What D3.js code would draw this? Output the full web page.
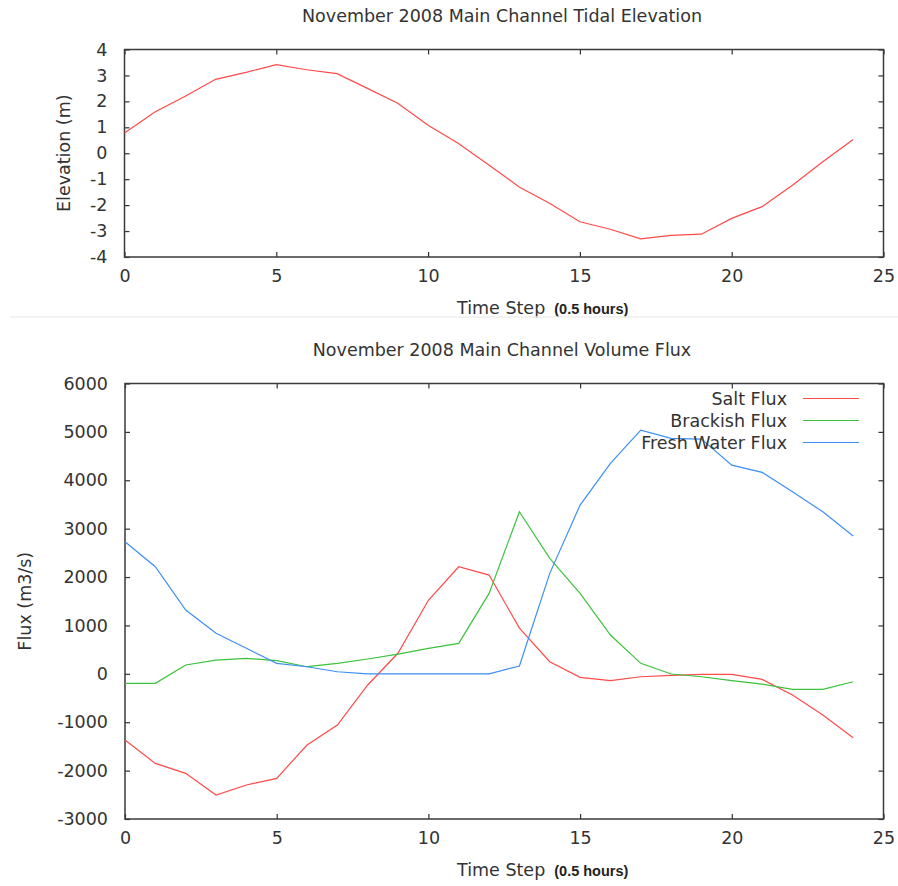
<!DOCTYPE html>
<html>
<head>
<meta charset="utf-8">
<script src="https://cdn.jsdelivr.net/npm/d3@7"></script>
<style>
  html, body { margin: 0; padding: 0; background: #fff; }
  svg { display: block; }
  text { font-family: "DejaVu Sans", sans-serif; fill: #333; }
</style>
</head>
<body>
<svg id="chart" width="898" height="886"></svg>
<script>
// ---- data ----
const timeSteps = [0,1,2,3,4,5,6,7,8,9,10,11,12,13,14,15,16,17,18,19,20,21,22,23,24];
const elevation = [0.78,1.59,2.2,2.85,3.12,3.42,3.22,3.07,2.5,1.93,1.08,0.38,-0.45,-1.3,-1.93,-2.64,-2.93,-3.3,-3.17,-3.12,-2.51,-2.06,-1.23,-0.33,0.53];
const saltFlux = [-1368,-1850,-2056,-2504,-2297,-2160,-1471,-1058,-230,430,1520,2213,2041,946,250,-72,-142,-60,-30,-10,-10,-114,-438,-851,-1320];
const brackishFlux = [-196,-196,182,285,320,271,147,217,306,409,527,630,1663,3349,2386,1663,802,217,-4,-60,-142,-211,-320,-320,-163];
const freshFlux = [2730,2213,1318,837,527,217,147,43,0,0,0,0,0,161,2076,3487,4349,5037,4866,4851,4314,4163,3762,3349,2847];

const xTicks = [0,5,10,15,20,25];
const elevTicks = [-4,-3,-2,-1,0,1,2,3,4];
const fluxTicks = [-3000,-2000,-1000,0,1000,2000,3000,4000,5000,6000];

const seriesNames = ["Salt Flux","Brackish Flux","Fresh Water Flux"];
const seriesColors = ["#ff4a4a","#3cc23c","#3d8ff5"];

const FS = 17.5;
const svg = d3.select("#chart");
const fmt = d => String(d);

function panel(opts) {
  const {left, right, top, bottom, yDomain, yTicks, title, yLabel, yLabelX, titleY} = opts;
  const x = d3.scaleLinear().domain([0,25]).range([left, right]);
  const y = d3.scaleLinear().domain(yDomain).range([bottom, top]);
  const g = svg.append("g");
  const tick = 5;

  const axB = g.append("g").attr("transform",`translate(0,${bottom})`)
    .call(d3.axisBottom(x).tickValues(xTicks).tickSize(-tick).tickPadding(12).tickFormat(fmt));
  const axT = g.append("g").attr("transform",`translate(0,${top})`)
    .call(d3.axisTop(x).tickValues(xTicks).tickSize(-tick).tickFormat(""));
  const axL = g.append("g").attr("transform",`translate(${left},0)`)
    .call(d3.axisLeft(y).tickValues(yTicks).tickSize(-tick).tickPadding(17).tickFormat(fmt));
  const axR = g.append("g").attr("transform",`translate(${right},0)`)
    .call(d3.axisRight(y).tickValues(yTicks).tickSize(-tick).tickFormat(""));
  [axB,axT,axL,axR].forEach(a => {
    a.select(".domain").remove();
    a.selectAll("line").attr("stroke","#333").attr("stroke-width",1.2);
    a.selectAll("text").attr("font-family","DejaVu Sans").attr("font-size",FS).attr("fill","#444");
  });
  axB.selectAll("text").attr("dy","0.75em");

  g.append("rect").attr("x",left).attr("y",top).attr("width",right-left).attr("height",bottom-top)
    .attr("fill","none").attr("stroke","#3a3a3a").attr("stroke-width",1.5);

  g.append("text").attr("x",502).attr("y",titleY).attr("text-anchor","middle")
    .attr("font-size",FS).text(title);

  g.append("text").attr("transform",`translate(${yLabelX},${(top+bottom)/2}) rotate(-90)`)
    .attr("text-anchor","middle").attr("font-size",FS).text(yLabel);

  const xl = g.append("text").attr("x",457).attr("y",bottom+57).attr("font-size",FS);
  xl.append("tspan").text("Time Step");
  xl.append("tspan").attr("dx",9).attr("font-family","Liberation Sans").attr("font-size",14.5)
    .attr("font-weight","bold").attr("fill","#222").text("(0.5 hours)");

  return {x, y, g};
}

// top panel
const p1 = panel({left:124.5, right:883.5, top:49.5, bottom:257, yDomain:[-4,4], yTicks:elevTicks,
  title:"November 2008 Main Channel Tidal Elevation", yLabel:"Elevation (m)", yLabelX:70, titleY:22});
p1.g.append("path")
  .datum(timeSteps.map((t,i)=>[t, elevation[i]]))
  .attr("fill","none").attr("stroke","#ff4a4a").attr("stroke-width",1.2)
  .attr("d", d3.line().x(d=>p1.x(d[0])).y(d=>p1.y(d[1])));

// separator
svg.append("line").attr("x1",10).attr("x2",898).attr("y1",317).attr("y2",317)
  .attr("stroke","#eeeeee").attr("stroke-width",1.5);

// bottom panel
const p2 = panel({left:125, right:883.5, top:383.5, bottom:819, yDomain:[-3000,6000], yTicks:fluxTicks,
  title:"November 2008 Main Channel Volume Flux", yLabel:"Flux (m3/s)", yLabelX:31, titleY:356});
[saltFlux, brackishFlux, freshFlux].forEach((vals, k) => {
  p2.g.append("path")
    .datum(timeSteps.map((t,i)=>[t, vals[i]]))
    .attr("fill","none").attr("stroke",seriesColors[k]).attr("stroke-width",1.2)
    .attr("d", d3.line().x(d=>p2.x(d[0])).y(d=>p2.y(d[1])));
});

// legend
const legY = [398.5, 420.5, 442.5];
seriesNames.forEach((name,k) => {
  p2.g.append("text").attr("x",787).attr("y",legY[k]).attr("dy","0.36em")
    .attr("text-anchor","end").attr("font-size",FS).text(name);
  p2.g.append("line").attr("x1",803).attr("x2",859).attr("y1",legY[k]).attr("y2",legY[k])
    .attr("stroke",seriesColors[k]).attr("stroke-width",1.2);
});
</script>
</body>
</html>
